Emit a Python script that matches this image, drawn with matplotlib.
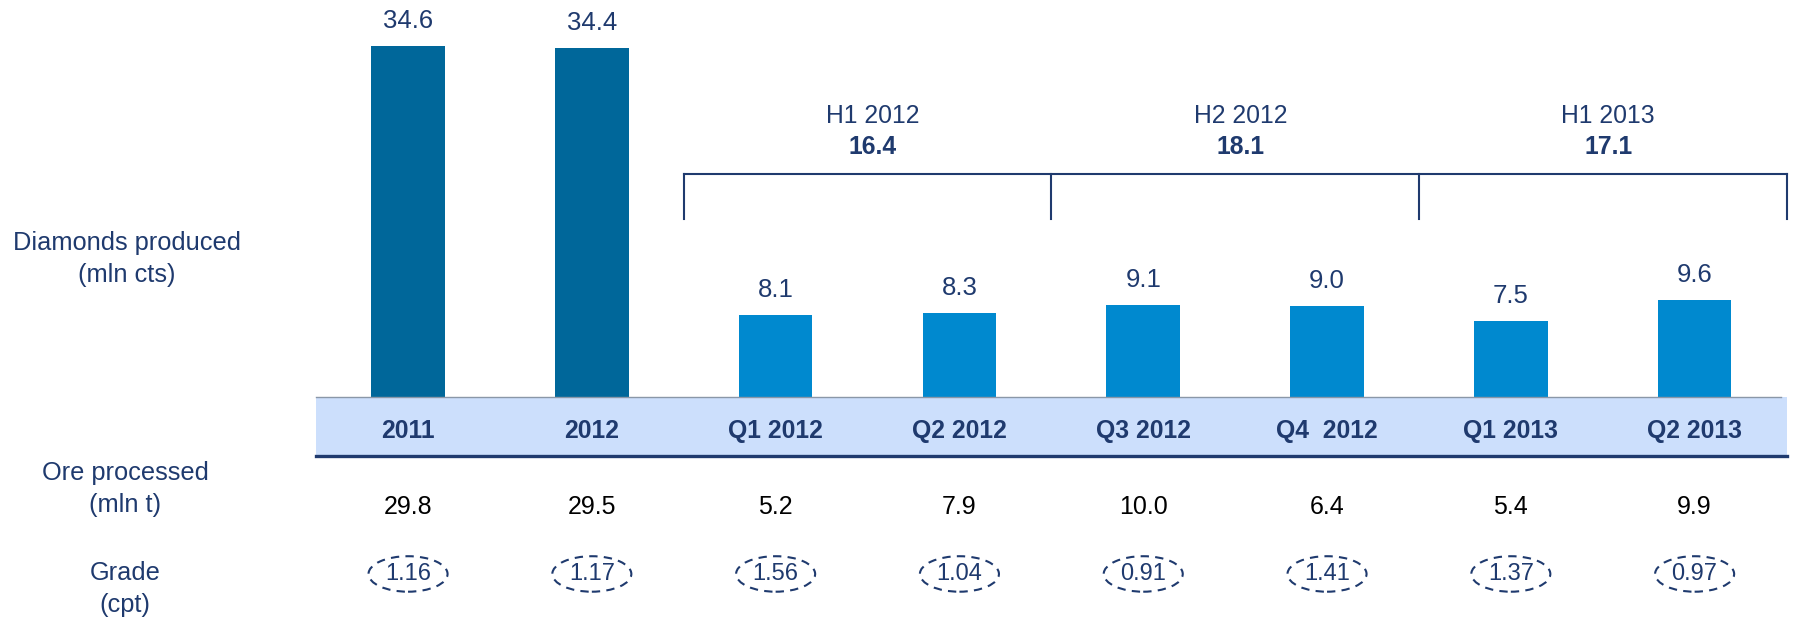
import matplotlib.pyplot as plt
from matplotlib.patches import Ellipse, Rectangle

plt.rcParams['font.family'] = ['Liberation Sans', 'DejaVu Sans']

# Data
periods = ["2011", "2012", "Q1 2012", "Q2 2012", "Q3 2012", "Q4  2012", "Q1 2013", "Q2 2013"]
diamonds = [34.6, 34.4, 8.1, 8.3, 9.1, 9.0, 7.5, 9.6]
ore = [29.8, 29.5, 5.2, 7.9, 10.0, 6.4, 5.4, 9.9]
grade = [1.16, 1.17, 1.56, 1.04, 0.91, 1.41, 1.37, 0.97]
half_labels = ["H1 2012", "H2 2012", "H1 2013"]
half_totals = [16.4, 18.1, 17.1]
half_spans = [(2, 3), (4, 5), (6, 7)]

navy = '#1F3A6E'
dark_bar = '#00679A'
light_bar = '#0089CF'
band = '#CCDFFC'

fig = plt.figure(figsize=(17.97, 6.27), dpi=100)
ax = fig.add_axes([0, 0, 1, 1])
ax.set_xlim(-2.22, 7.557)
ax.set_ylim(-22.68, 39.15)
ax.axis('off')

x = list(range(len(periods)))
colors = [dark_bar, dark_bar] + [light_bar] * 6
ax.bar(x, diamonds, width=0.40, color=colors, zorder=2)

# value labels above bars
for xi, v in zip(x, diamonds):
    ax.text(xi, v + 1.75, f"{v:.1f}", ha='center', va='baseline',
            fontsize=18.5, color=navy)

# category band
ax.add_patch(Rectangle((-0.5, -5.7), 8.0, 5.7, facecolor=band, edgecolor='none', zorder=1))
ax.plot([-0.5, 7.47], [0, 0], color='#8A97A8', lw=1.0, zorder=3)
ax.plot([-0.5, 7.5], [-5.85, -5.85], color=navy, lw=2.4, zorder=3)
for xi, p in zip(x, periods):
    ax.text(xi, -3.4, p, ha='center', va='center', fontsize=17.8,
            fontweight='bold', color=navy)

# half-year brackets
br_top, br_bot = 22.0, 17.6
edges = [1.5, 3.5, 5.5, 7.5]
ax.plot([edges[0], edges[-1]], [br_top, br_top], color=navy, lw=1.5)
for e in edges:
    ax.plot([e, e], [br_top, br_bot], color=navy, lw=1.5)
for lab, tot, (a, b) in zip(half_labels, half_totals, half_spans):
    xc = (a + b) / 2 + 0.03
    ax.text(xc, 27.7, lab, ha='center', va='center', fontsize=17.8, color=navy)
    ax.text(xc, 24.65, f"{tot:.1f}", ha='center', va='center', fontsize=17.8,
            fontweight='bold', color=navy)

# ore processed row
for xi, v in zip(x, ore):
    ax.text(xi, -10.8, f"{v:.1f}", ha='center', va='center', fontsize=18, color='black')

# grade row
for xi, g in zip(x, grade):
    ax.add_patch(Ellipse((xi, -17.45), 0.43, 3.5, fill=False, edgecolor=navy,
                         lw=1.5, linestyle=(0, (4, 3))))
    ax.text(xi, -17.45, f"{g:.2f}", ha='center', va='center', fontsize=17, color=navy)

# row titles
lx = -1.54
ax.text(lx + 0.01, 15.2, "Diamonds produced", ha='center', va='center', fontsize=18.3, color=navy)
ax.text(lx + 0.01, 12.0, "(mln cts)", ha='center', va='center', fontsize=18.3, color=navy)
ax.text(lx, -7.5, "Ore processed", ha='center', va='center', fontsize=18.3, color=navy)
ax.text(lx, -10.6, "(mln t)", ha='center', va='center', fontsize=18.3, color=navy)
ax.text(lx, -17.35, "Grade", ha='center', va='center', fontsize=18.3, color=navy)
ax.text(lx, -20.5, "(cpt)", ha='center', va='center', fontsize=18.3, color=navy)

fig.savefig('out.png', dpi=100)
